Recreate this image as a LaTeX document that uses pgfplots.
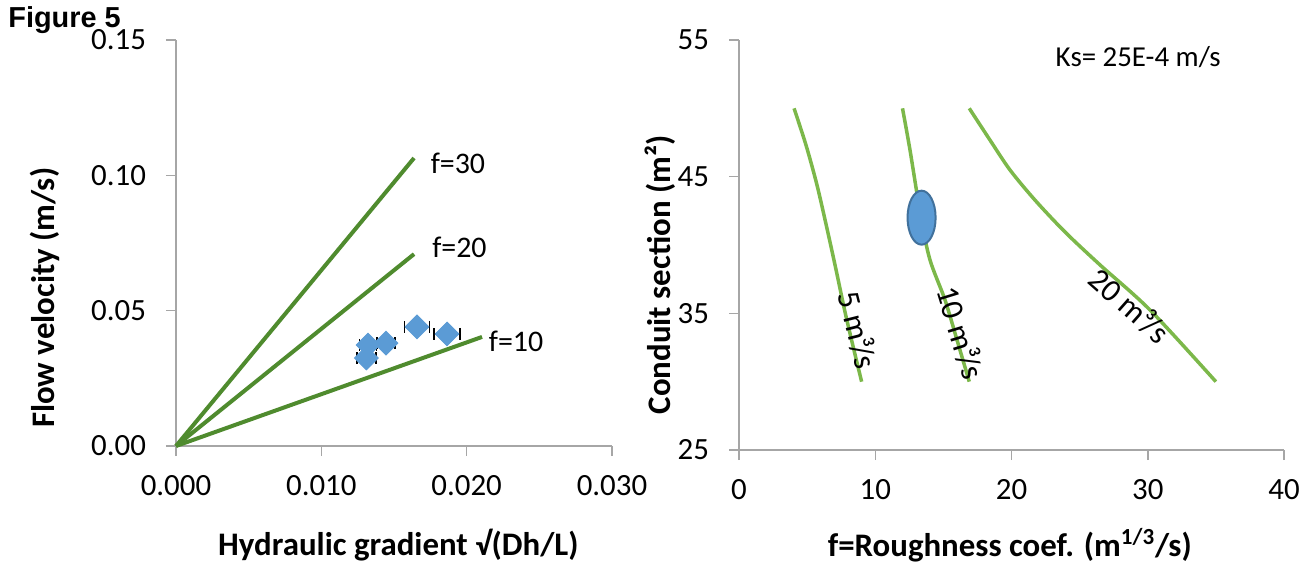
\documentclass[border=0pt]{standalone}
\usepackage{pgfplots}
\pgfplotsset{compat=1.18}
\usepackage{fontspec}
\setmainfont{Carlito}
\newfontfamily\arial{Liberation Sans}
\definecolor{dgreen}{HTML}{4F8B2E}
\definecolor{lgreen}{HTML}{7CB84A}
\definecolor{ptblue}{HTML}{5B9BD5}
\definecolor{edgeblue}{HTML}{41719C}
\definecolor{axgray}{HTML}{A6A6A6}
\pgfplotsset{exc/.style={scale only axis, axis lines=left,
  axis line style={-, draw=axgray, line width=0.75bp},
  tick style={draw=axgray, line width=0.75bp}, tick align=outside,
  major tick length=5bp,
  tick label style={font=\fontsize{15.5}{18}\selectfont},
  x tick label style={yshift=-6bp}, y tick label style={xshift=-6.5bp},
  /pgf/number format/assume math mode=true, clip=false,
  label style={font=\bfseries\fontsize{16.5}{19}\selectfont}}}
\begin{document}
\begin{tikzpicture}
\useasboundingbox (0,0) rectangle (652bp,281bp);
\node[font=\arial\bfseries\fontsize{14.5}{16}\selectfont, anchor=base west, inner sep=0pt] at (4bp,267bp) {Figure 5};
\begin{axis}[exc, at={(88bp,58bp)}, anchor=south west, width=218bp, height=203bp,
  xmin=0, xmax=0.03, ymin=0, ymax=0.15,
  xtick={0,0.01,0.02,0.03}, ytick={0,0.05,0.1,0.15}, scaled ticks=false,
  x tick label style={/pgf/number format/fixed, /pgf/number format/fixed zerofill, /pgf/number format/precision=3},
  y tick label style={/pgf/number format/fixed, /pgf/number format/fixed zerofill, /pgf/number format/precision=2},
  xlabel={Hydraulic gradient √(Dh/L)}, ylabel={Flow velocity (m/s)},
  xlabel style={at={(axis description cs:0.51,-0.244)}, anchor=center},
  ylabel style={at={(axis description cs:-0.30,0.365)}, anchor=center, rotate=0}]
\addplot[dgreen, line width=2bp] coordinates {(0,0) (0.01638,0.1064)};
\addplot[dgreen, line width=2bp] coordinates {(0,0) (0.01638,0.0709)};
\addplot[dgreen, line width=2bp] coordinates {(0,0) (0.02106,0.0403)};
\addplot[only marks, mark=square*, mark size=4.2bp,
  mark options={rotate=45, fill=ptblue, draw=ptblue},
  error bars/.cd, x dir=both, x explicit, error mark=|,
  error bar style={black, line width=0.75bp},
  error mark options={black, mark size=3bp, line width=0.75bp}]
  coordinates {
  (0.01321,0.0373) +- (0.00058,0)
  (0.01310,0.0325) +- (0.00066,0)
  (0.01445,0.0380) +- (0.00062,0)
  (0.01658,0.0440) +- (0.00086,0)
  (0.01865,0.0414) +- (0.00090,0)
  };
\node[font=\fontsize{15}{18}\selectfont] at (axis cs:0.0194,0.1045) {f=30};
\node[font=\fontsize{15}{18}\selectfont] at (axis cs:0.0195,0.0735) {f=20};
\node[font=\fontsize{15}{18}\selectfont] at (axis cs:0.0234,0.0388) {f=10};
\end{axis}
\begin{axis}[exc, at={(369.5bp,56bp)}, anchor=south west, width=272.5bp, height=205bp,
  xmin=0, xmax=40, ymin=25, ymax=55,
  xtick={0,10,20,30,40}, ytick={25,35,45,55},
  xlabel={f=Roughness coef. (m\textsuperscript{1/3}/s)}, ylabel={Conduit section (m²)},
  xlabel style={at={(axis description cs:0.497,-0.232)}, anchor=center},
  ylabel style={at={(axis description cs:-0.145,0.427)}, anchor=center, rotate=0}]
\addplot[lgreen, line width=1.75bp, smooth] coordinates {
  (4.04,50) (4.92,47.3) (5.72,44.4) (6.46,41.2) (7.12,38.2) (7.78,35.1) (8.44,32.3) (9.0,30)};
\addplot[lgreen, line width=1.75bp, smooth] coordinates {
  (12.0,50) (12.55,46.95) (13.36,41.98) (14.02,38.9) (15.12,35.98) (16.0,33.05) (16.9,30)};
\addplot[lgreen, line width=1.75bp, smooth] coordinates {
  (16.9,50) (18.42,47.68) (19.89,45.49) (21.72,43.29) (23.93,40.95) (26.5,38.54) (30.17,35.24) (35.0,30)};
\addplot[only marks, mark=*, mark size=13.5bp,
  mark options={xscale=0.52, fill=ptblue, draw=edgeblue, line width=1bp}]
  coordinates {(13.4,42.0)};
\node[font=\fontsize{14.5}{17}\selectfont] at (axis cs:29.3,53.75) {Ks= 25E-4 m/s};
\node[font=\fontsize{16}{18}\selectfont, rotate=-76] at (axis cs:8.75,33.8) {5 m³/s};
\node[font=\fontsize{16}{18}\selectfont, rotate=-73] at (axis cs:16.3,33.6) {10 m³/s};
\node[font=\fontsize{16}{18}\selectfont, rotate=-41.5] at (axis cs:28.7,35.6) {20 m³/s};
\end{axis}
\end{tikzpicture}
\end{document}
